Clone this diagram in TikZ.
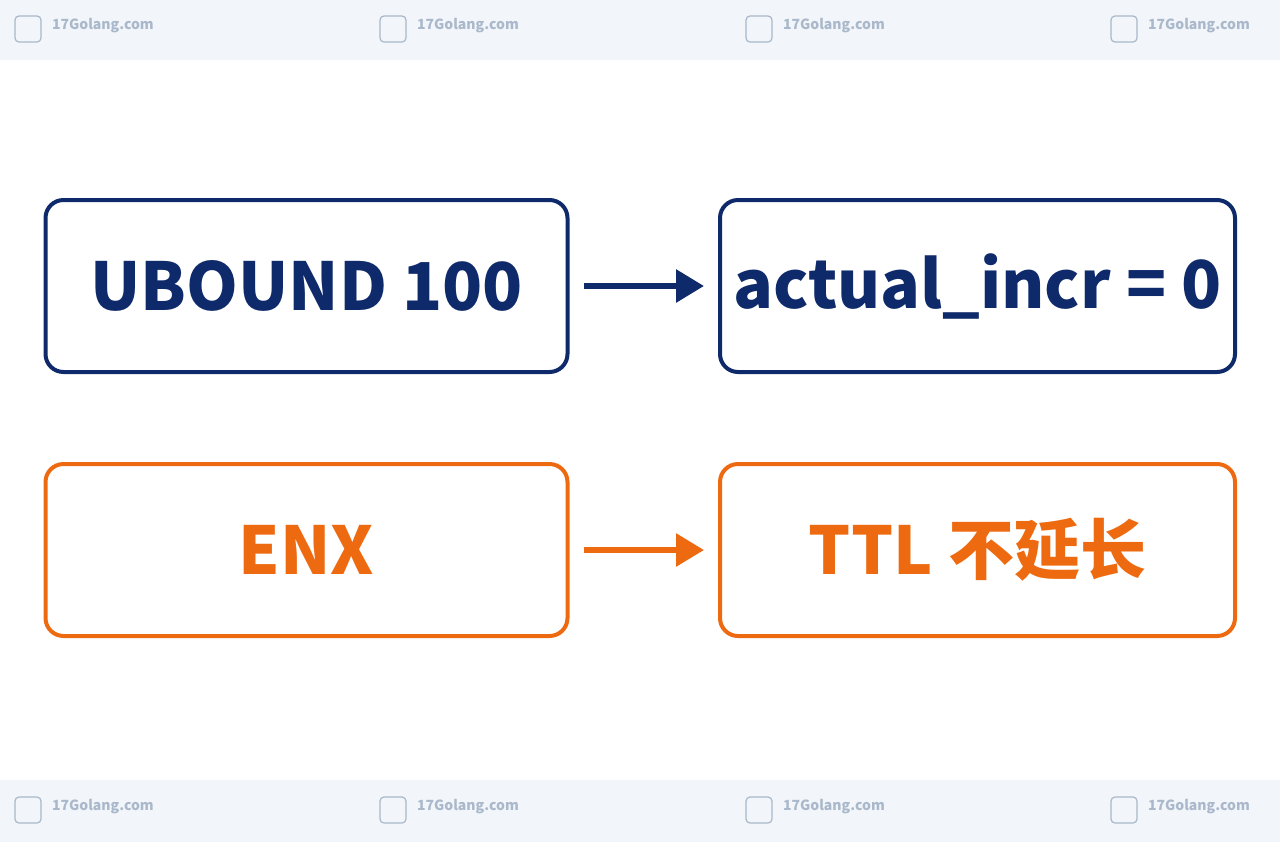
\documentclass[tikz,border=0pt]{standalone}
\usepackage{fontspec}
\setmainfont{Noto Sans CJK SC}
\usetikzlibrary{arrows.meta}
\definecolor{navy}{HTML}{0E2A6B}
\definecolor{orng}{HTML}{EE6A10}
\definecolor{band}{HTML}{F2F5F9}
\definecolor{wm}{HTML}{A9B8CA}
\begin{document}
\begin{tikzpicture}[x=0.5pt,y=-0.5pt,
 box/.style={draw,line width=2pt,rounded corners=9pt,inner sep=0pt,minimum width=261pt,minimum height=86pt,font=\fontsize{33}{36}\selectfont\bfseries},
 nb/.style={box,draw=navy,text=navy},
 ob/.style={box,draw=orng,text=orng},
 rb/.style={minimum width=257.5pt},
 arr/.style={line width=3pt,-{Triangle[length=14pt,width=16pt]}},
 wmk/.style={text=wm,font=\fontsize{7}{8}\selectfont\bfseries,anchor=west}]
\fill[white] (0,0) rectangle (1280,842);
\fill[band] (0,0) rectangle (1280,60);
\fill[band] (0,780) rectangle (1280,842);
\foreach \x [count=\i] in {15,380,746,1111}{
 \node[wmk] (wt\i) at (\x+30,26) {17Golang.com};
 \node[wmk] (wb\i) at (\x+30,807) {17Golang.com};
 \draw[wm,rounded corners=2pt,line width=0.6pt] (\x,16) rectangle (\x+26,42);
 \draw[wm,rounded corners=2pt,line width=0.6pt] (\x,797) rectangle (\x+26,823);
}
\node[nb] (a) at (306.5,286) {UBOUND 100};
\node[nb,rb] (b) at (977.5,286) {actual\_incr = 0};
\node[ob] (c) at (306.5,550) {ENX};
\node[ob,rb] (d) at (977.5,550) {TTL 不延长};
\draw[arr,navy] ([xshift=7pt]a.east) -- ([xshift=-7pt]b.west);
\draw[arr,orng] ([xshift=7pt]c.east) -- ([xshift=-7pt]d.west);
\end{tikzpicture}
\end{document}
